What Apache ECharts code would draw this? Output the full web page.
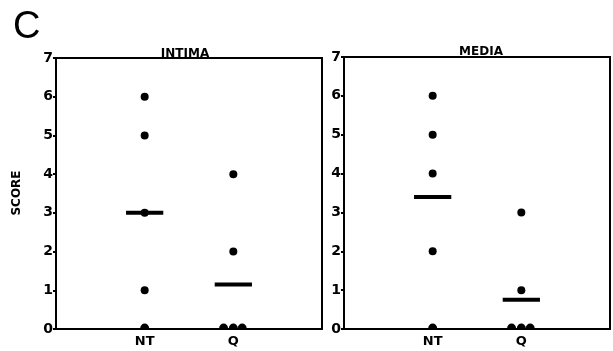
<!DOCTYPE html>
<html>
<head>
<meta charset="utf-8">
<script src="https://cdn.jsdelivr.net/npm/echarts@6/dist/echarts.min.js"></script>
<style>
  html, body { margin: 0; padding: 0; background: #fff; }
  #chart { width: 613px; height: 351px; }
</style>
</head>
<body>
<div id="chart"></div>
<script>
// 组别（x 位置 1 = NT, 2 = Q）
const groups = ['NT', 'Q'];
const panels = ['INTIMA', 'MEDIA'];
const yTicks = [0, 1, 2, 3, 4, 5, 6, 7];

// 每个点 [x, score]，零值点稍微错开
const intimaPoints = [[1, 6], [1, 5], [1, 3], [1, 1], [1, 0],
                      [2, 4], [2, 2], [1.89, 0], [2, 0], [2.1, 0]];
const mediaPoints = [[1, 6], [1, 5], [1, 4], [1, 2], [1, 0],
                     [2, 3], [2, 1], [1.89, 0], [2, 0], [2.1, 0]];

// 均值横线
const intimaMeans = [3, 1.15];
const mediaMeans = [3.4, 0.75];

const chart = echarts.init(document.getElementById('chart'));

const font = '"DejaVu Sans", sans-serif';
const halfDot = 'path://M0,10 A10,10 0 0 1 20,10 L0,10 Z';

const grids = [
  { left: 56, top: 58, width: 266, height: 271 },
  { left: 344, top: 57, width: 267, height: 272 }
];

function xAx(i) {
  return {
    gridIndex: i, type: 'value', min: 0, max: 3, interval: 1, z: 5,
    axisLine: { lineStyle: { color: '#000', width: 2 } },
    axisTick: { show: false },
    splitLine: { show: false },
    axisLabel: {
      color: '#000', fontFamily: font, fontWeight: 'bold', fontSize: 13, margin: 6,
      formatter: v => groups[v - 1] || ''
    }
  };
}
function yAx(i) {
  return {
    gridIndex: i, type: 'value', min: yTicks[0], max: yTicks[yTicks.length - 1], interval: 1,
    axisLine: { lineStyle: { color: '#000', width: 2 } },
    axisTick: { show: true, length: 3, lineStyle: { color: '#000', width: 2 } },
    splitLine: { show: false },
    axisLabel: { color: '#000', fontFamily: font, fontWeight: 'bold', fontSize: 14, margin: 3 }
  };
}

const series = [];
[intimaPoints, mediaPoints].forEach((pts, i) => {
  series.push({
    type: 'scatter', xAxisIndex: i, yAxisIndex: i,
    data: pts.map(p => p[1] === 0
      ? { value: p, symbol: halfDot, symbolSize: [9, 5], symbolOffset: [0, -3] }
      : { value: p }),
    symbol: 'circle',
    symbolSize: 8,
    itemStyle: { color: '#000', opacity: 1 }
  });
});
[intimaMeans, mediaMeans].forEach((means, i) => {
  means.forEach((m, g) => {
    series.push({
      type: 'line', xAxisIndex: i, yAxisIndex: i, symbol: 'none',
      data: [[g + 1 - 0.21, m], [g + 1 + 0.21, m]],
      lineStyle: { color: '#000', width: 4 }
    });
  });
});

chart.setOption({
  animation: false,
  grid: grids.map(g => Object.assign({ show: true, borderColor: '#000', borderWidth: 2 }, g)),
  xAxis: [xAx(0), xAx(1)],
  yAxis: [yAx(0), yAx(1)],
  title: [
    { text: 'C', left: 8, top: 4, textStyle: { fontFamily: '"Liberation Sans", Arial, sans-serif', fontWeight: 'normal', fontSize: 38, color: '#000' } },
    { text: panels[0], left: 180, top: 43, textAlign: 'center', textStyle: { fontFamily: font, fontWeight: 'bold', fontSize: 12, color: '#000' } },
    { text: panels[1], left: 476, top: 41, textAlign: 'center', textStyle: { fontFamily: font, fontWeight: 'bold', fontSize: 12, color: '#000' } }
  ],
  graphic: [{
    type: 'text', x: 17, y: 193, rotation: Math.PI / 2,
    style: { text: 'SCORE', fontFamily: font, fontWeight: 'bold', fontSize: 12, fill: '#000', align: 'center', verticalAlign: 'middle' }
  }],
  series: series
});
</script>
</body>
</html>
